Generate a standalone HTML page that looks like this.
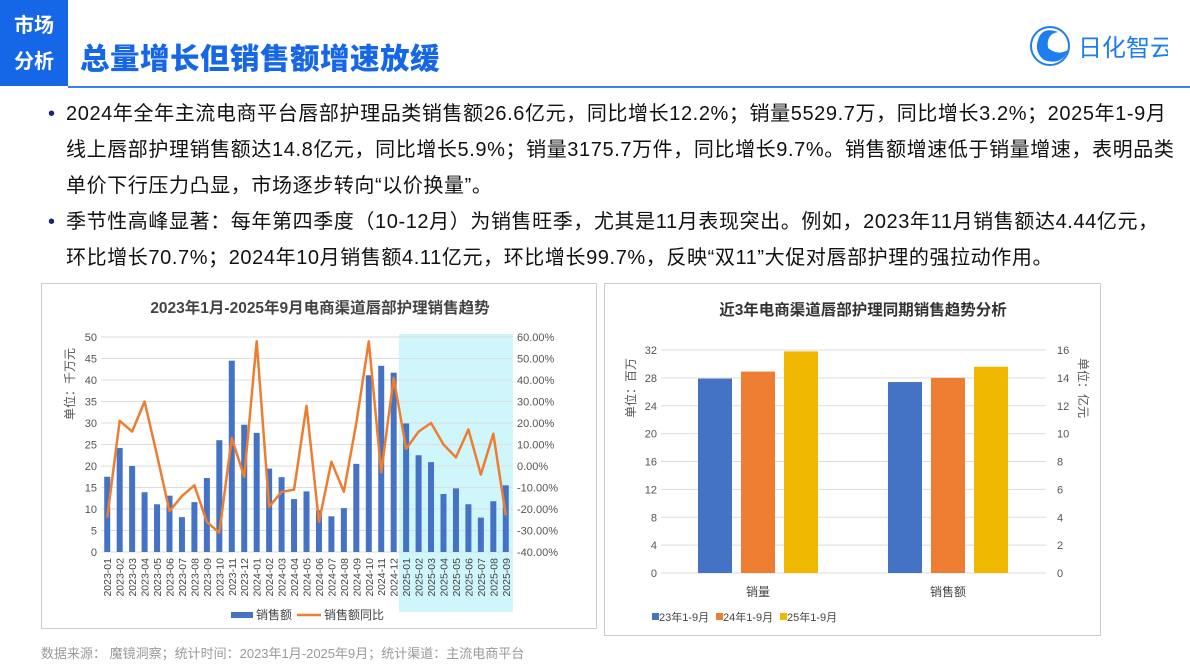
<!DOCTYPE html>
<html><head><meta charset="utf-8">
<style>
*{margin:0;padding:0;box-sizing:border-box}
body{width:1190px;height:669px;background:#fff;position:relative;overflow:hidden;font-family:"Liberation Sans","Noto Sans CJK SC",sans-serif;color:#111}
.tag{position:absolute;left:0;top:0;width:68px;height:86px;background:#1667e8;color:#fff;font-weight:bold;font-size:20px;line-height:36px;text-align:center;padding-top:8px}
.title{position:absolute;left:80px;top:36px;font-size:29.5px;font-weight:900;color:#1667e8;letter-spacing:0.5px}
.hline{position:absolute;left:68px;top:86px;width:1122px;height:2px;background:#3a84f0}
.logo{position:absolute;left:1028px;top:22px;width:140px;height:48px}
.txt{position:absolute;left:48px;top:96px;font-size:20px;line-height:36px;white-space:nowrap;letter-spacing:0.6px}
.txt p{padding-left:18px;position:relative}
.txt p.b::before{content:"•";position:absolute;left:0;color:#1a237e}
.card{position:absolute;border:1px solid #ccc;background:#fff}
.foot{position:absolute;left:41px;top:643px;font-size:13px;color:#999}
</style></head><body>
<div class="tag">市场<br>分析</div>
<div class="title">总量增长但销售额增速放缓</div>
<div class="hline"></div>
<svg class="logo" viewBox="0 0 140 48">
<circle cx="22" cy="24" r="19" fill="none" stroke="#1e7ef0" stroke-width="2"/>
<path d="M10 18 Q14 4 30 10 Q18 12 20 26 Q30 34 40 28 Q34 44 16 38 Q6 30 10 18Z" fill="#1e7ef0"/>
<text x="50" y="34" font-size="24" fill="#1e7ef0" font-family="Liberation Sans,Noto Sans CJK SC,sans-serif">日化智云</text>
</svg>
<div class="txt">
<p class="b">2024年全年主流电商平台唇部护理品类销售额26.6亿元，同比增长12.2%；销量5529.7万，同比增长3.2%；2025年1-9月</p>
<p>线上唇部护理销售额达14.8亿元，同比增长5.9%；销量3175.7万件，同比增长9.7%。销售额增速低于销量增速，表明品类</p>
<p>单价下行压力凸显，市场逐步转向“以价换量”。</p>
<p class="b">季节性高峰显著：每年第四季度（10-12月）为销售旺季，尤其是11月表现突出。例如，2023年11月销售额达4.44亿元，</p>
<p>环比增长70.7%；2024年10月销售额4.11亿元，环比增长99.7%，反映“双11”大促对唇部护理的强拉动作用。</p>
</div>
<div class="card" style="left:41px;top:283px;width:556px;height:346px">
<svg id="c1" width="556" height="346"></svg></div>
<div class="card" style="left:604px;top:283px;width:497px;height:353px">
<svg id="c2" width="497" height="353"></svg></div>
<div class="foot">数据来源：&nbsp;魔镜洞察；统计时间：2023年1月-2025年9月；统计渠道：主流电商平台</div>
<script>
const months=["2023-01","2023-02","2023-03","2023-04","2023-05","2023-06","2023-07","2023-08","2023-09","2023-10","2023-11","2023-12","2024-01","2024-02","2024-03","2024-04","2024-05","2024-06","2024-07","2024-08","2024-09","2024-10","2024-11","2024-12","2025-01","2025-02","2025-03","2025-04","2025-05","2025-06","2025-07","2025-08","2025-09"];
const sales=[17.5,24.2,20,13.9,11.1,13.1,8.1,11.6,17.2,26,44.5,29.6,27.7,19.4,17.4,12.3,14.1,9.7,8.3,10.2,20.5,41.1,43.3,41.7,29.9,22.5,20.9,13.5,14.8,11.1,8,11.8,15.5];
const yoy=[-24,21,16,30,5,-21,-14,-9,-26,-31,13,-5,58,-19,-12,-11,28,-26,2,-12,20,58,-3,41,8,16,20,10,4,17,-4,15,-23];
const leftTicks=[0,5,10,15,20,25,30,35,40,45,50];
const rightTicks=[-40,-30,-20,-10,0,10,20,30,40,50,60];
const groups=["销量","销售额"];
const series=["23年1-9月","24年1-9月","25年1-9月"];
const volume=[27.9,28.9,31.8];
const revenue=[13.7,14.0,14.8];
const ticks2L=[0,4,8,12,16,20,24,28,32];
const ticks2R=[0,2,4,6,8,10,12,14,16];
const NS="http://www.w3.org/2000/svg";
function mk(svg,tag,attrs,txt){const e=document.createElementNS(NS,tag);for(const k in attrs)e.setAttribute(k,attrs[k]);if(txt!==undefined)e.textContent=txt;svg.appendChild(e);return e;}
const F="Liberation Sans,Noto Sans CJK SC,sans-serif";
(function(){
const s=document.getElementById('c1');
const x0=59,x1=470,yb=268,yt=53;
const step=(x1-x0)/months.length;
const xc=i=>x0+step*(i+0.5);
const yL=v=>yb-(v/50)*(yb-yt);
const yR=v=>yb-((v+40)/100)*(yb-yt);
let t=mk(s,'text',{x:278,y:29,'text-anchor':'middle','font-size':15.5,'font-weight':'bold',fill:'#444','font-family':F},'2023年1月-2025年9月电商渠道唇部护理销售趋势');

let hl=mk(s,'rect',{x:xc(24)-step/2-1,y:50,width:step*9+2,height:278,fill:'#cff6fb'});

leftTicks.forEach(v=>{mk(s,'line',{x1:x0,x2:x1,y1:yL(v),y2:yL(v),stroke:'#ddd'});
 const e=mk(s,'text',{x:55,y:yL(v)+4,'text-anchor':'end','font-size':11,fill:'#555','font-family':F},v);
 });
rightTicks.forEach(v=>{const e=mk(s,'text',{x:475,y:yR(v)+4,'font-size':11,fill:'#555','font-family':F},v.toFixed(2)+'%');
 });
let yt1=mk(s,'text',{transform:'translate(32,100) rotate(-90)','text-anchor':'middle','font-size':12,fill:'#555','font-family':F},'单位：千万元');

sales.forEach((v,i)=>{const b=mk(s,'rect',{x:xc(i)-3,y:yL(v),width:6,height:yb-yL(v),fill:'#4472c4'});
 
 const l=mk(s,'text',{transform:`translate(${xc(i)+4},${yb+6}) rotate(-90)`,'text-anchor':'end','font-size':10.5,fill:'#444','font-family':F},months[i]);
 });
const pl=mk(s,'polyline',{points:yoy.map((v,i)=>xc(i)+','+yR(v)).join(' '),fill:'none',stroke:'#ed7d31','stroke-width':2.5,'stroke-linejoin':'round'});

const lg=mk(s,'g',{});
mk(lg,'rect',{x:189,y:328,width:22,height:6,fill:'#4472c4'});
mk(lg,'text',{x:214,y:335,'font-size':12,fill:'#444','font-family':F},'销售额');
mk(lg,'line',{x1:255,x2:279,y1:331,y2:331,stroke:'#ed7d31','stroke-width':2.5});
mk(lg,'text',{x:282,y:335,'font-size':12,fill:'#444','font-family':F},'销售额同比');
})();
(function(){
const s=document.getElementById('c2');
const x0=56,x1=441,yb=289,yt=66;
const yL=v=>yb-(v/32)*(yb-yt);
const yR=v=>yb-(v/16)*(yb-yt);
let t=mk(s,'text',{x:258,y:31,'text-anchor':'middle','font-size':15.5,'font-weight':'bold',fill:'#333','font-family':F},'近3年电商渠道唇部护理同期销售趋势分析');

ticks2L.forEach(v=>{mk(s,'line',{x1:x0,x2:x1,y1:yL(v),y2:yL(v),stroke:'#ddd'});
 const e=mk(s,'text',{x:52,y:yL(v)+4,'text-anchor':'end','font-size':11,fill:'#555','font-family':F},v);
 });
ticks2R.forEach(v=>{const e=mk(s,'text',{x:452,y:yR(v)+4,'font-size':11,fill:'#555','font-family':F},v);
 });
let a=mk(s,'text',{transform:'translate(30,104) rotate(-90)','text-anchor':'middle','font-size':12,fill:'#555','font-family':F},'单位：百万');

let b=mk(s,'text',{transform:'translate(474,104) rotate(90)','text-anchor':'middle','font-size':12,fill:'#555','font-family':F},'单位：亿元');

const colors=['#4472c4','#ed7d31','#f0b800'];
const gc=[153,343];
[volume,revenue].forEach((arr,g)=>{
 arr.forEach((v,k)=>{const y=g===0?yL(v):yR(v);
  const r=mk(s,'rect',{x:gc[g]-60+k*43,y:y,width:34,height:yb-y,fill:colors[k]});
  });
 const l=mk(s,'text',{x:gc[g],y:312,'text-anchor':'middle','font-size':12,fill:'#444','font-family':F},groups[g]);
 });
series.forEach((n,k)=>{const g=mk(s,'g',{});
 mk(g,'rect',{x:47+k*64,y:329,width:7,height:7,fill:colors[k]});
 mk(g,'text',{x:54+k*64,y:337,'font-size':11,fill:'#444','font-family':F},n);});
})();
</script>
</body></html>
